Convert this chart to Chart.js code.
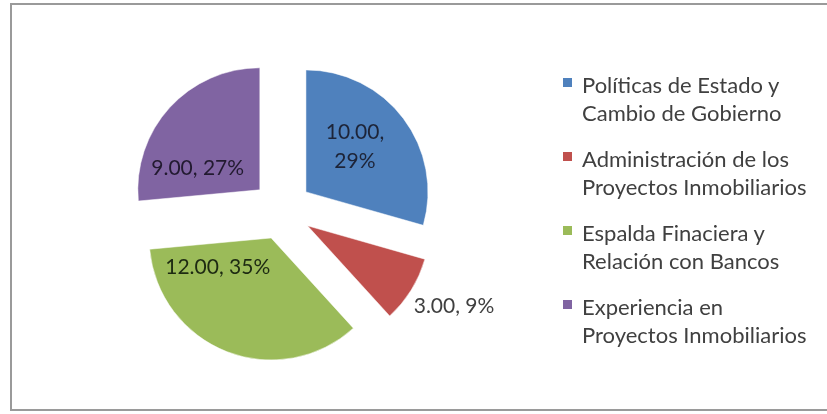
<!DOCTYPE html>
<html>
<head>
<meta charset="utf-8">
<script src="https://cdn.jsdelivr.net/npm/chart.js@4"></script>
<style>
  html, body { margin: 0; padding: 0; background: #fff; }
  #wrap { position: relative; width: 827px; height: 414px; overflow: hidden; }
  #frame {
    position: absolute; left: 10px; top: 3px; width: 830px; height: 408px;
    border: 2px solid #9a9a9a; border-right: none; box-sizing: border-box;
  }
  #chart { position: absolute; left: 0; top: 0; }
  #legend {
    position: absolute; left: 563px; top: 71px;
    font-family: Lato, "Open Sans", sans-serif; font-size: 22px; color: #404040;
  }
  .item { position: relative; padding-left: 19px; line-height: 28px; margin-bottom: 18px; white-space: nowrap; }
  .box { position: absolute; left: 0; top: 7px; width: 9px; height: 9px; }
</style>
</head>
<body>
<div id="wrap">
  <div id="frame"></div>
  <canvas id="chart" width="827" height="414"></canvas>
  <div id="legend"></div>
</div>
<script>
// categorias y valores
const categories = [
  ["Políticas de Estado y", "Cambio de Gobierno"],
  ["Administración de los", "Proyectos Inmobiliarios"],
  ["Espalda Finaciera y", "Relación con Bancos"],
  ["Experiencia en", "Proyectos Inmobiliarios"]
];
const values = [10, 3, 12, 9];
const colors = ["#4F81BD", "#C0504D", "#9BBB59", "#8064A2"];

// separacion de las porciones (px) y ubicacion de etiquetas:
// giro (grados) respecto a la bisectriz y distancia en radios desde el vertice
const explode = 30;
const labelTurn = [-6, -3, 40, -23];
const labelDist = [0.55, 1.37, 0.50, 0.54];
const labelBreak = [true, false, false, false];
const labelColor = ["#1d2438", "#404040", "#1d2a12", "#221a30"];

// porcentajes enteros que suman 100 (resto mayor)
function percents(vals) {
  const total = vals.reduce((a, b) => a + b, 0);
  const raw = vals.map(v => v / total * 100);
  const out = raw.map(Math.floor);
  let left = 100 - out.reduce((a, b) => a + b, 0);
  raw.map((r, i) => [r - Math.floor(r), i])
    .sort((a, b) => b[0] - a[0])
    .forEach(([, i]) => { if (left > 0) { out[i]++; left--; } });
  return out;
}
const pcts = percents(values);

// desplaza cada porcion a lo largo de su bisectriz sin cambiar el radio
const explodeSlices = {
  id: "explodeSlices",
  afterDatasetsUpdate(chart) {
    chart.getDatasetMeta(0).data.forEach(arc => {
      const mid = (arc.startAngle + arc.endAngle) / 2;
      arc.x += Math.cos(mid) * explode;
      arc.y += Math.sin(mid) * explode;
    });
  }
};

const sliceLabels = {
  id: "sliceLabels",
  afterDatasetsDraw(chart) {
    const ctx = chart.ctx;
    const meta = chart.getDatasetMeta(0);
    ctx.save();
    ctx.font = "21px Lato, 'Open Sans', sans-serif";
    ctx.textAlign = "center";
    ctx.textBaseline = "middle";
    meta.data.forEach((arc, i) => {
      const p = arc.getProps(["x", "y", "startAngle", "endAngle", "outerRadius"], true);
      const mid = (p.startAngle + p.endAngle) / 2;
      const a = mid + labelTurn[i] * Math.PI / 180;
      const d = labelDist[i] * p.outerRadius;
      const lx = p.x + Math.cos(a) * d;
      const ly = p.y + Math.sin(a) * d;
      const val = values[i].toFixed(2);
      const pct = pcts[i] + "%";
      ctx.fillStyle = labelColor[i];
      if (labelBreak[i]) {
        ctx.fillText(val + ",", lx, ly - 14);
        ctx.fillText(pct, lx, ly + 15);
      } else {
        ctx.fillText(val + ", " + pct, lx, ly);
      }
    });
    ctx.restore();
  }
};

new Chart(document.getElementById("chart"), {
  type: "pie",
  data: {
    labels: categories.map(c => c.join(" ")),
    datasets: [{
      data: values,
      backgroundColor: colors,
      borderColor: "rgba(255,255,255,0.5)",
      borderWidth: 1,
      clip: false
    }]
  },
  options: {
    responsive: false,
    animation: false,
    radius: 122,
    layout: { padding: { left: 130, right: 393, top: 52, bottom: 46 } },
    plugins: {
      legend: { display: false },
      tooltip: { enabled: false }
    }
  },
  plugins: [explodeSlices, sliceLabels]
});

// leyenda a la derecha
const legend = document.getElementById("legend");
categories.forEach((lines, i) => {
  const item = document.createElement("div");
  item.className = "item";
  const box = document.createElement("span");
  box.className = "box";
  box.style.background = colors[i];
  item.appendChild(box);
  lines.forEach(t => {
    const row = document.createElement("div");
    row.textContent = t;
    item.appendChild(row);
  });
  legend.appendChild(item);
});
</script>
</body>
</html>
